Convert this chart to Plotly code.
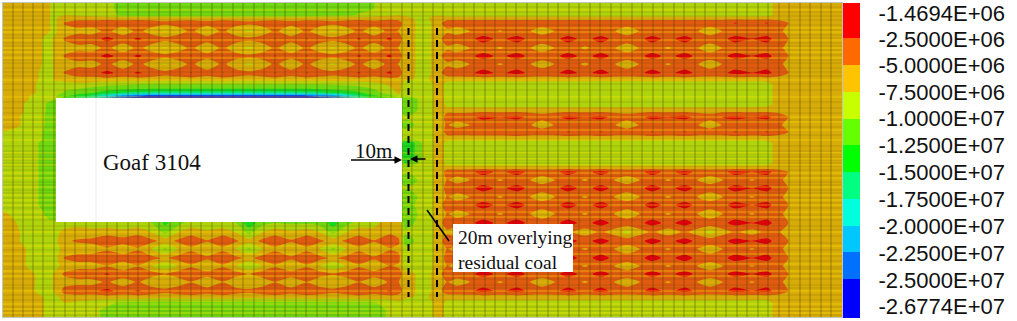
import plotly.graph_objects as go

W, H = 1017, 321

# ---------- colour legend ----------
legend_labels = ["-1.4694E+06", "-2.5000E+06", "-5.0000E+06", "-7.5000E+06", "-1.0000E+07", "-1.2500E+07",
                 "-1.5000E+07", "-1.7500E+07", "-2.0000E+07", "-2.2500E+07", "-2.5000E+07", "-2.6774E+07"]
legend_tick_y = [13, 39, 65, 92, 118, 145, 172, 199, 226, 253, 280, 306]
legend_edges = [3, 38, 65, 92, 119, 145, 172, 199, 226, 252, 279, 318]
legend_colors = ["#FF0000", "#FF6A00", "#FFC400", "#C8FF00", "#66FF00", "#00FF00",
                 "#00FF80", "#00FFDD", "#00C8FF", "#0070FF", "#0000FF"]
field_colors = ["#E0000C", "#E05A10", "#D8AC08", "#B0D40C", "#6ED810", "#18D820",
                "#10E080", "#10E0D0", "#10B0F0", "#0868F0", "#0808E0"]

# ---------- grid of the stress field (MPa, compressive negative) ----------
x_margin = [3, 18, 30, 42, 50, 56]
x_left = [64, 78, 92, 107, 123, 138, 152, 165, 178, 191, 207, 223, 236, 249, 262, 275, 291, 307, 320, 333, 346, 359, 374, 390, 399]
x_gap = [405, 412, 420, 428, 436, 441]
x_right = [447, 457, 470, 483, 500, 517, 530, 542, 555, 568, 585, 601, 614, 627, 640, 652, 668, 685, 697, 710, 723, 735, 752, 767, 778, 785]
x_end = [792, 842]

M0 = [-6, -6, -6.2, -6.8, -7.5, -7.7]
M1 = [-6, -6, -6.2, -7.5, -8, -7]
M2 = [-6, -6, -6.2, -8, -8.2, -7]
M3 = [-6, -6.1, -6.6, -8.4, -8.8, -8.2]
M4 = [-6, -6.2, -7.6, -9, -9.5, -9.8]
M5 = [-6, -6.8, -8.2, -9.4, -10.6, -11.5]
M6 = [-6.2, -7.2, -8.6, -9.6, -10.8, -11.8]
M7 = [-7.5, -8.2, -9, -9.9, -11.2, -11.8]
M8 = [-8.2, -8.8, -9.5, -10.2, -11.2, -11.8]
M9 = [-7.2, -8, -9, -9.8, -10.8, -11.5]
M10 = [-6.5, -7.6, -8.4, -9, -9.5, -9]
M11 = [-6.2, -7.4, -8, -8.5, -8.6, -8]
M12 = [-6, -6.5, -8, -8.5, -8.5, -8]
M13 = [-6, -6, -7, -8.2, -8, -7]
M14 = [-6, -6, -6.2, -7.4, -8, -8]

L_a = [-7.8, -8.2, -8.8, -9.5, -10.6, -11.2, -11.5, -11.6, -11.7, -11.6, -11.5, -11.5, -11.5, -11.5, -11.5, -11.5, -11.5, -11.5, -11.2, -11, -10.8, -10.5, -10, -9, -8.3]
L_b = [-7.6, -7.9, -8.2, -8.8, -10.6, -11, -11, -11, -11, -11, -11, -11, -11, -11, -11, -11, -11, -11, -10.9, -10.8, -10.5, -9.8, -8.6, -8, -7.6]
L_c = [-6, -6.2, -6.4, -6.4, -6.5, -6.5, -6.5, -6.6, -6.6, -6.6, -6.6, -6.6, -6.6, -6.6, -6.6, -6.6, -6.6, -6.6, -6.6, -6.6, -6.5, -6.5, -6.4, -6.2, -6]
L_s0 = [-4.9, -3.6, -3.4, -2.8, -3.3, -2.8, -3.4, -4.2, -3.5, -2.9, -4, -2.9, -3.7, -4.3, -3.6, -2.9, -4, -2.9, -3.5, -4.2, -3.5, -2.9, -3.8, -2.8, -4]
L_s = [-4.9, -3.5, -3.4, -1.9, -3.3, -2.2, -3.3, -4.2, -3.5, -2.4, -4, -2.45, -3.7, -4.3, -3.6, -2.4, -4, -2.4, -3.5, -4.2, -3.5, -2.3, -3.8, -2.1, -4]
L_l = [-5.6, -5.8, -6.2, -4.2, -6.8, -4.2, -6.4, -7.8, -6.4, -4.4, -6.8, -4.4, -6.8, -8, -6.8, -4.4, -6.8, -4.4, -6.8, -7.8, -6.4, -4.4, -6.6, -4.2, -5.2]
L_y79 = [-6.5, -6, -6, -5.8, -6, -5.8, -6, -6.2, -6, -5.8, -6, -5.8, -6, -6.2, -6, -5.8, -6, -5.8, -6, -6.2, -6, -5.8, -5.8, -5.6, -5.5]
L_y84 = [-8.5, -8, -8.4, -9.2, -9.5, -9.8, -9.8, -9.8, -9.8, -9.8, -9.8, -9.8, -9.8, -9.8, -9.8, -9.8, -9.8, -9.8, -9.7, -9.5, -9.3, -9, -8.5, -7, -6]
L_y89 = [-9.5, -10, -10.8, -11.6, -12, -12.4, -12.6, -12.6, -12.6, -12.6, -12.6, -12.6, -12.6, -12.6, -12.6, -12.6, -12.6, -12.6, -12.4, -12, -11.6, -11.2, -10, -8, -6.5]
L_y93 = [-10.5, -11.5, -12.5, -14, -15.5, -16, -16.2, -16.4, -16.4, -16.4, -16.4, -16.4, -16.4, -16.4, -16.4, -16.4, -16.4, -16, -15.6, -15, -14, -13, -11, -9, -7]
L_y96 = [-12, -14, -16, -19, -23, -24.5, -25.5, -25.8, -26, -26, -26, -26, -26, -26, -26, -26, -25.5, -25, -24, -23, -20, -16, -13, -11, -9]
L_y99 = [-15, -18, -21, -24, -26.5, -26.7, -26.7, -26.7, -26.7, -26.7, -26.7, -26.7, -26.7, -26.7, -26.7, -26.7, -26.7, -26.7, -26.5, -26, -24, -20, -16, -13, -11]
L_hidden = [-11, -11, -11, -11, -11, -11, -11, -11, -11, -11, -11, -11, -11, -11, -11, -11, -11, -11, -11, -11, -11, -11, -11, -9.5, -9.5]
L_d = [-8.5, -8, -8.5, -9, -9, -9, -10, -13, -11, -9, -9.5, -9.5, -10, -14, -11, -10, -10.5, -10.5, -11, -13.5, -11, -9, -8, -6.5, -6.5]
BL_l0 = [-7, -6.8, -6.8, -6, -6.8, -6, -7.6, -11, -7.6, -6, -7, -6, -7.6, -11, -7.6, -6, -7, -6, -7.6, -11, -7.6, -6, -7, -5.6, -6]
BL_s1 = [-5.5, -4.6, -4.2, -3.4, -3.8, -3.3, -4.4, -6, -4.5, -3.5, -4.8, -3.5, -4.6, -6.5, -4.4, -3.5, -4.7, -3.4, -4.5, -6, -4.5, -3.6, -4.8, -3.2, -4.6]
BL_l1 = [-7, -6.5, -6.5, -5.4, -6.8, -5.4, -7.6, -10.5, -7.6, -5.6, -7, -5.6, -7.6, -10.5, -7.6, -5.6, -7, -5.6, -7.6, -10.5, -7.6, -5.6, -6.8, -5.3, -5.6]
BL_s2 = [-4.8, -3.8, -3.7, -3, -3.6, -3, -4.2, -5.4, -4, -3.2, -4.5, -3.2, -4.4, -5.6, -4, -3.2, -4.5, -3.2, -4.2, -5.5, -4.2, -3.3, -4.6, -3, -4.3]
BL_l2 = [-6.8, -6.2, -6.2, -5.2, -6.6, -5.2, -7.4, -9.6, -7.4, -5.4, -7, -5.4, -7.4, -9.8, -7.4, -5.4, -7, -5.4, -7.4, -9.8, -7.4, -5.4, -6.6, -5, -5.4]
BL_s3 = [-4.5, -3.2, -3.2, -2.3, -3.4, -2.7, -3.8, -4.8, -3.6, -3, -4, -3, -3.9, -5.2, -3.5, -2.9, -3.8, -2.9, -3.8, -4.7, -3.8, -2.9, -4, -2.7, -4]
BL_l3 = [-6.2, -6, -6, -4.6, -6.4, -4.6, -7, -7.4, -6.6, -5.1, -6.8, -5.1, -7, -7.6, -7, -5.1, -6.8, -5.1, -7, -7.4, -6.6, -5.1, -6.5, -4.7, -5]
BL_s4 = [-4, -3, -3, -1.9, -3.3, -2.2, -3.3, -4.2, -3.3, -2.7, -3.8, -2.7, -3.8, -4.3, -3.3, -2.7, -3.8, -2.7, -3.3, -4.2, -3.3, -2.4, -3.8, -2.2, -3.8]
L_e = [-6.5, -6.2, -6.4, -6, -6.2, -6, -6.4, -6.6, -6.4, -6, -6.4, -6, -6.4, -6.6, -6.4, -6, -6.4, -6, -6.4, -6.6, -6.4, -6, -6.2, -6, -6]
L_f = [-7.6, -8, -8.5, -9.5, -10.5, -10.8, -10.8, -10.8, -10.8, -10.8, -10.8, -10.8, -10.8, -10.8, -10.8, -10.8, -10.8, -10.8, -10.8, -10.7, -10.6, -10.5, -10.2, -9, -8]
L_g = [-8, -8.8, -9.5, -10.4, -11.2, -11.5, -11.5, -11.5, -11.5, -11.5, -11.5, -11.5, -11.5, -11.5, -11.5, -11.5, -11.5, -11.5, -11.5, -11.4, -11.4, -11.2, -11, -9.6, -9]

G_top = [-6, -6.8, -8.4, -8.2, -6.4, -5.2]
G_am = [-6.6, -7.4, -7.8, -7.6, -6.6, -6.2]
G_plain = [-9.6, -9.2, -8.8, -8.5, -7, -6.5]
G_green = [-12.5, -11.4, -9.4, -8.5, -7, -6]
G_high = [-14.5, -13.5, -10.5, -8.5, -7, -6]
G_soft = [-11, -10.4, -9, -8.5, -7, -5.5]
G_top0 = [-8, -8.2, -8.4, -8.4, -7.8, -8]

R_lime = [-8.6, -8.6, -8.6, -8.6, -8.6, -8.6, -8.6, -8.6, -8.6, -8.6, -8.6, -8.6, -8.6, -8.6, -8.6, -8.6, -8.6, -8.6, -8.6, -8.6, -8.6, -8.6, -8.6, -8.5, -6.5, -6]
R_lim2 = [-8.8, -8.9, -9, -9, -9, -9, -9, -9, -9, -9, -9, -9, -9, -9, -9, -9, -9, -9, -9, -9, -9, -9, -9, -8.4, -6.6, -6]
R_am = [-6.2, -6.2, -6.2, -6.2, -6.2, -6.2, -6.2, -6.2, -6.2, -6.2, -6.2, -6.2, -6.2, -6.2, -6.2, -6.2, -6.2, -6.2, -6.2, -6.2, -6.2, -6.2, -6.2, -6.2, -6, -6]
R_s0 = [-3.5, -3.4, -3.2, -3.1, -3.2, -3.1, -3.2, -3.3, -3.2, -3.1, -3.2, -3.1, -3.2, -3.3, -3.2, -3, -3.2, -3, -3.2, -3.3, -3.1, -2.4, -3, -2.4, -3.8, -4.6]
R_s = [-3.5, -3.4, -3, -1.7, -3, -1.7, -3, -3.3, -3, -1.7, -3.2, -1.7, -3, -3.3, -3, -1.7, -3.1, -1.7, -3, -3.3, -3, -1.7, -2.4, -1.7, -3.6, -4.6]
R_l31 = [-5.5, -6.5, -5, -3.8, -5.2, -3.8, -4.9, -6.5, -4.9, -3.8, -4.6, -3.8, -4.8, -7, -4.8, -3.8, -4.9, -3.8, -4.8, -7, -4.8, -3.8, -4.2, -3.8, -4.5, -5.2]
R_l48 = [-5.5, -6.5, -5, -3.8, -5.3, -3.8, -4.9, -6.5, -4.9, -3.8, -5.4, -3.8, -4.8, -7, -4.8, -3.8, -5.3, -3.8, -4.8, -7, -4.8, -3.8, -5, -3.8, -4.5, -5.2]
R_mid_s = [-3.5, -3.5, -3, -1.8, -2.4, -1.8, -3, -4, -3, -1.8, -2.4, -1.8, -3, -4, -3, -1.8, -2.3, -1.8, -3, -4, -2.3, -1.8, -2.4, -1.8, -3.6, -4.6]
R_mid_l = [-4.8, -6, -5, -4, -4.4, -4.2, -4.8, -6.5, -4.8, -4.2, -4.4, -4.2, -4.8, -6.5, -4.8, -4.2, -4.4, -4.2, -4.8, -6.5, -4.8, -4.2, -4.4, -4.2, -4.6, -5.3]
R_mid_s2 = [-3.6, -3.5, -3.4, -3.2, -3.4, -2.8, -3.4, -3.5, -3.4, -2.4, -3.4, -2.4, -3.4, -3.5, -3.4, -2.4, -3.4, -2.4, -3.4, -3.5, -3.4, -2.4, -3.2, -2.4, -3.8, -4.6]
R_l2 = [-5, -6.2, -5, -3.8, -5.3, -3.8, -5, -6.8, -5, -3.8, -5.3, -3.8, -5, -6.8, -5, -3.8, -5.3, -3.8, -5, -6.8, -5, -3.8, -5.3, -3.8, -4.5, -5.2]
R_l3 = [-5.6, -7, -5.6, -4.6, -6.2, -4.6, -6, -8.5, -6, -4.6, -6.2, -4.6, -6, -8.5, -6, -4.6, -6.2, -4.6, -6, -8.5, -6, -4.6, -6, -4.4, -4.8, -5.4]

E_block = [-5.4, -5.8]
E_plain = [-5.9, -6]

y_rows = [3, 9, 15, 18, 23, 31, 39, 48, 56, 64, 73, 79, 84, 89, 93, 96, 99, 104, 110, 117, 125, 132, 138, 143, 150,
          158, 163, 168, 172, 180, 188, 197, 205, 214, 223, 232, 241, 249, 258, 266, 274, 282, 291, 297, 303, 310, 317]

stress_rows = [
    M0 + L_a + G_top0 + R_lime + E_plain,
    M0 + L_a + G_top0 + R_lime + E_plain,
    M0 + L_b + G_top0 + R_lime + E_plain,
    M0 + L_c + G_am + R_am + E_plain,
    M0 + L_s0 + G_top + R_s0 + E_block,
    M0 + L_l + G_top + R_l31 + E_block,
    M1 + L_s + G_top + R_s + E_block,
    M1 + L_l + G_top + R_l48 + E_block,
    M1 + L_s + G_top + R_s + E_block,
    M1 + L_l + G_top + R_l48 + E_block,
    M2 + L_s + G_top + R_s + E_block,
    M2 + L_y79 + G_am + R_am + E_plain,
    M3 + L_y84 + G_plain + R_lim2 + E_plain,
    M3 + L_y89 + G_plain + R_lim2 + E_plain,
    M3 + L_y93 + G_plain + R_lim2 + E_plain,
    M4 + L_y96 + G_plain + R_lim2 + E_plain,
    M4 + L_y99 + G_green + R_lim2 + E_plain,
    M5 + L_hidden + G_green + R_lim2 + E_plain,
    M5 + L_hidden + G_green + R_am + E_plain,
    M6 + L_hidden + G_plain + R_mid_s + E_block,
    M6 + L_hidden + G_soft + R_mid_l + E_block,
    M7 + L_hidden + G_plain + R_mid_s2 + E_block,
    M7 + L_hidden + G_plain + R_am + E_plain,
    M8 + L_hidden + G_high + R_lim2 + E_plain,
    M8 + L_hidden + G_high + R_lim2 + E_plain,
    M8 + L_hidden + G_high + R_lim2 + E_plain,
    M8 + L_hidden + G_green + R_lim2 + E_plain,
    M8 + L_hidden + G_plain + R_am + E_plain,
    M8 + L_hidden + G_plain + R_s + E_block,
    M8 + L_hidden + G_green + R_l2 + E_block,
    M8 + L_hidden + G_plain + R_s + E_block,
    M8 + L_hidden + G_green + R_l2 + E_block,
    M8 + L_hidden + G_soft + R_s + E_block,
    M9 + L_hidden + G_green + R_l2 + E_block,
    M10 + L_d + G_soft + R_s + E_block,
    M11 + BL_l0 + G_plain + R_l3 + E_block,
    M11 + BL_s1 + G_soft + R_s + E_block,
    M12 + BL_l1 + G_plain + R_l2 + E_block,
    M12 + BL_s2 + G_plain + R_s + E_block,
    M12 + BL_l2 + G_plain + R_l2 + E_block,
    M13 + BL_s3 + G_top + R_s + E_block,
    M13 + BL_l3 + G_top + R_l2 + E_block,
    M13 + BL_s4 + G_top + R_s + E_block,
    M14 + L_e + G_am + R_am + E_plain,
    M14 + L_f + G_plain + R_lime + E_plain,
    M14 + L_g + G_plain + R_lime + E_plain,
    M14 + L_g + G_plain + R_lime + E_plain,
]

# ---------- model mesh ----------
mesh_x = [13, 23, 33, 43, 54, 65, 75, 86, 96, 107, 117, 128, 138, 149, 159, 170, 180, 191, 201, 212, 222, 233, 243, 254,
          264, 275, 285, 296, 306, 317, 327, 338, 348, 359, 370, 381, 391, 402, 412, 423, 433, 443, 453, 464, 474, 485,
          495, 506, 516, 527, 537, 548, 558, 569, 579, 590, 600, 611, 621, 632, 642, 653, 663, 674, 684, 695, 705, 716,
          726, 737, 747, 758, 768, 779, 789, 800, 810, 821, 831]
mesh_y_dark = [7, 12, 16, 20, 25, 30, 35, 38, 43, 46, 50, 55, 60, 63, 68, 72, 76, 84, 90, 102, 108, 113, 120, 127, 135,
               146, 151, 154, 157, 160, 163, 166, 170, 176, 182, 185, 190, 193, 198, 203, 208, 215, 220, 226, 230, 236,
               243, 250, 256, 261, 267, 269, 274, 279, 285, 288, 295, 300, 307, 311, 315]
mesh_y_yellow = [10, 28, 32, 40, 48, 52, 58, 80, 97, 117, 122, 130, 140, 153, 159, 165, 173, 178, 187, 195, 200, 205,
                 212, 217, 232, 246, 254, 264, 271, 276, 291, 304, 309, 313]

x_all = x_margin + x_left + x_gap + x_right + x_end
y_lo, y_hi = 3, 317
x_lo, x_hi = 3, 842


def grid_xy(vertical, horizontal):
    xs, ys = [], []
    for v in vertical:
        xs += [v, v, None]
        ys += [y_lo, y_hi, None]
    for h in horizontal:
        xs += [x_lo, x_hi, None]
        ys += [h, h, None]
    return xs, ys


n_bands = len(field_colors)
step_scale = []
for i, c in enumerate(reversed(field_colors)):
    step_scale += [[i / n_bands, c], [(i + 1) / n_bands, c]]

legend_scale = []
for i, c in enumerate(legend_colors):
    legend_scale += [[i / n_bands, c], [(i + 1) / n_bands, c]]

fig = go.Figure()
fig.add_trace(go.Contour(
    x=x_all, y=y_rows, z=stress_rows,
    autocontour=False, zmin=-27.5, zmax=0,
    contours=dict(start=-27.5, end=0, size=2.5, coloring="fill", showlines=False),
    line=dict(width=0, smoothing=0.6), colorscale=step_scale, showscale=False,
    hoverinfo="skip", xaxis="x", yaxis="y",
))
dx, dy = grid_xy([], mesh_y_dark)
fig.add_trace(go.Scatter(x=dx, y=dy, mode="lines", line=dict(color="rgba(70,60,0,0.18)", width=1),
                         hoverinfo="skip", showlegend=False, xaxis="x", yaxis="y"))
dx, dy = grid_xy([], mesh_y_yellow)
fig.add_trace(go.Scatter(x=dx, y=dy, mode="lines", line=dict(color="rgba(255,225,0,0.55)", width=1),
                         hoverinfo="skip", showlegend=False, xaxis="x", yaxis="y"))
dx, dy = grid_xy(mesh_x, [])
fig.add_trace(go.Scatter(x=dx, y=dy, mode="lines", line=dict(color="rgba(70,60,0,0.45)", width=1),
                         hoverinfo="skip", showlegend=False, xaxis="x", yaxis="y"))
fig.add_trace(go.Heatmap(
    x=[0, 1], y=legend_edges, z=[[i] for i in range(n_bands)],
    zmin=-0.5, zmax=n_bands - 0.5, colorscale=legend_scale, showscale=False,
    hoverinfo="skip", xaxis="x2", yaxis="y2", xgap=0, ygap=0,
))


def line(x0, y0, x1, y1, color="black", width=1.5, dash=None):
    return dict(type="line", x0=x0, y0=y0, x1=x1, y1=y1, xref="x", yref="y", layer="above",
                line=dict(color=color, width=width, dash=dash))


shapes = [
    dict(type="rect", x0=56, x1=402, y0=98, y1=222, xref="x", yref="y", layer="above",
         fillcolor="white", line=dict(width=0)),
    line(96, 98, 96, 222, color="#ececec", width=1),
    dict(type="rect", x0=453, x1=573, y0=224, y1=272, xref="x", yref="y", layer="above",
         fillcolor="white", line=dict(width=0)),
    line(408.5, 28, 408.5, 297, width=2, dash="7px,5px"),
    line(437, 28, 437, 297, width=2, dash="7px,5px"),
    line(427, 210, 449, 241, width=1.5),
    line(351, 160, 396, 160, width=1.5),
]


def txt(x, y, s, size, anchor="left"):
    return dict(x=x, y=y, xref="x", yref="y", text=s, showarrow=False, xanchor=anchor, yanchor="middle",
                font=dict(family="Liberation Serif", size=size, color="#111"))


annotations = [
    txt(101, 162, "Goaf 3104", 23),
    txt(353, 151, "10m", 21),
    txt(456, 237, "20m overlying", 19.5),
    txt(456, 262, "residual coal", 19.5),
    dict(x=402, y=160, ax=392, ay=160, xref="x", yref="y", axref="x", ayref="y", text="", showarrow=True,
         arrowhead=2, arrowsize=1, arrowwidth=1.5, arrowcolor="black"),
    dict(x=410, y=159, ax=427, ay=159, xref="x", yref="y", axref="x", ayref="y", text="", showarrow=True,
         arrowhead=2, arrowsize=1, arrowwidth=1.5, arrowcolor="black"),
]

fig.update_layout(
    width=W, height=H, margin=dict(l=0, r=0, t=0, b=0, autoexpand=False), paper_bgcolor="white", plot_bgcolor="white",
    showlegend=False, shapes=shapes, annotations=annotations,
    xaxis=dict(domain=[x_lo / W, x_hi / W], range=[x_lo, x_hi], showgrid=False, zeroline=False, showticklabels=False,
               ticks="", showline=True, mirror=True, linecolor="#c4c4c4", linewidth=1),
    yaxis=dict(domain=[1 - y_hi / H, 1 - y_lo / H], range=[y_hi, y_lo], showgrid=False, zeroline=False,
               showticklabels=False, ticks="", showline=True, mirror=True, linecolor="#c4c4c4", linewidth=1),
    xaxis2=dict(domain=[843 / W, 860 / W], range=[0, 1], showgrid=False, zeroline=False, showticklabels=False, ticks=""),
    yaxis2=dict(domain=[1 - 318 / H, 1 - 3 / H], range=[318, 3], anchor="x2", side="right", showgrid=False,
                zeroline=False, automargin=False, tickmode="array", tickvals=legend_tick_y, ticktext=legend_labels,
                ticks="outside", ticklen=13, tickcolor="rgba(0,0,0,0)", ticklabeloverflow="allow",
                tickfont=dict(family="Liberation Sans", size=22, color="#111")),
)

fig.write_html("out.html", config=dict(displayModeBar=False),
               post_script="document.body.style.margin='0';document.documentElement.style.overflow='hidden';")
